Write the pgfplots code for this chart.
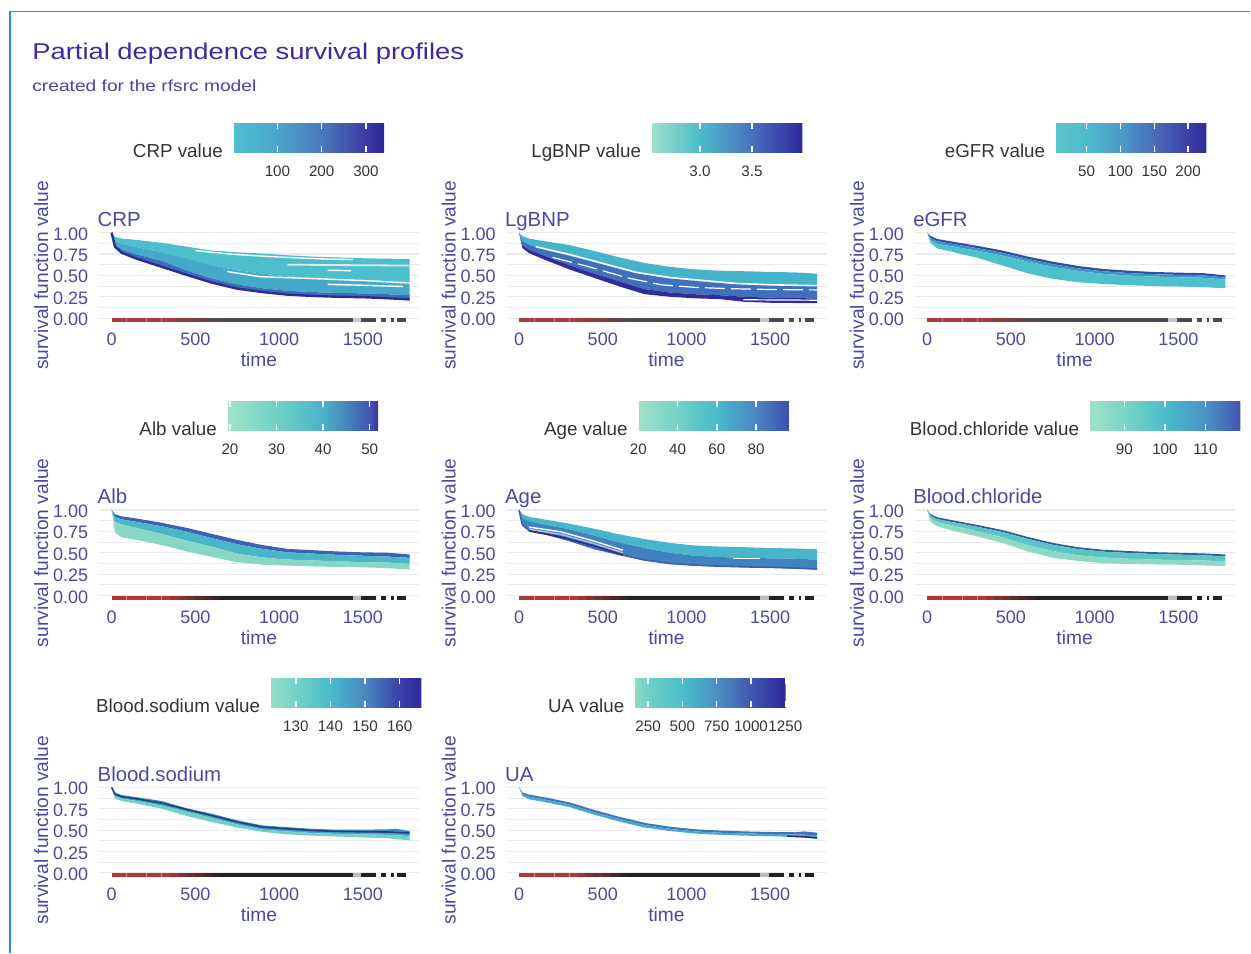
\documentclass[border=0pt]{standalone}
\usepackage{fontspec}
\setmainfont{Liberation Sans}
\newfontfamily\widefont{Liberation Sans}[FakeStretch=1.2]
\usepackage{pgfplots}
\pgfplotsset{compat=1.18}
\usepgfplotslibrary{fillbetween}

\definecolor{titlec}{HTML}{3A2BA0}
\definecolor{subc}{HTML}{4A44A6}
\definecolor{axtext}{HTML}{4B48A2}
\definecolor{legtext}{HTML}{333333}
\definecolor{gridc}{HTML}{E9E9EF}
\definecolor{borderc}{HTML}{2A93D0}
\definecolor{rugred}{HTML}{B3363A}
\definecolor{rugA}{HTML}{4A4A4A}
\definecolor{rugB}{HTML}{222222}

\newcommand\ttlfont{\widefont\fontsize{11.4}{13}\selectfont}
\newcommand\subfont{\widefont\fontsize{8}{9.5}\selectfont}
\newcommand\tickfont{\fontsize{9}{10.5}\selectfont}
\newcommand\labfont{\fontsize{9.6}{11}\selectfont}
\newcommand\pantitlefont{\fontsize{10.2}{12}\selectfont}
\newcommand\legfont{\fontsize{9.4}{11}\selectfont}
\newcommand\cbtick{\fontsize{7.6}{9}\selectfont}

\tikzset{legtitle/.style={anchor=base east, inner sep=0pt, xshift=-5pt, yshift=-2.6pt, font=\legfont, text=legtext}}

\pgfplotsset{
  /pgf/number format/assume math mode=true,
  panel/.style={
    scale only axis, width=160pt, height=47.08pt, anchor=south west,
    xmin=-75, xmax=1835, ymin=-0.05, ymax=1.05, clip=false,
    axis line style={draw=none},
    major tick length=0pt, minor tick length=0pt,
    xtick={0,500,1000,1500}, xticklabels={0,500,1000,1500},
    ytick={0,0.25,0.5,0.75,1}, yticklabels={0.00,0.25,0.50,0.75,1.00},
    minor ytick={0.125,0.375,0.625,0.875},
    ymajorgrids, yminorgrids,
    major grid style={draw=gridc, line width=0.55pt},
    minor grid style={draw=gridc, line width=0.45pt},
    xticklabel style={font=\tickfont, text=axtext, anchor=base, yshift=-11.7pt, inner sep=0pt},
    yticklabel style={font=\tickfont, text=axtext, anchor=east, xshift=-1.9pt, yshift=-0.7pt},
    xlabel={time}, ylabel={survival function value},
    every axis x label/.style={at={(axis description cs:0.5,0)}, anchor=base, yshift=-22.2pt, font=\labfont, text=axtext},
    every axis y label/.style={at={(axis description cs:-0.159,0.5)}, rotate=90, anchor=base, font=\labfont, text=axtext},
    every axis title/.style={at={(axis description cs:0,1)}, anchor=base west, inner sep=0pt, xshift=-0.9pt, yshift=0.85pt, font=\pantitlefont, text=axtext},
    colorbar horizontal,
  },
  cbar/.style={
    scale only axis, width=75.5pt, height=14.7pt,
    at={(parent axis.south west)}, anchor=south west,
    axis line style={draw=none}, axis on top,
    tick align=inside, major tick length=3.2pt,
    xtick pos=both, xticklabel pos=lower,
    tick style={draw=white, line width=0.7pt},
    xticklabel style={font=\cbtick, text=legtext, anchor=base, yshift=-12.2pt, inner sep=0pt},
    ytick=\empty,
  },
}

% rug at y = 0: red at early times, fading to dark, broken near the end
\newcommand\rug[1]{%
\addplot[rugred, line width=2pt] coordinates {(0,-0.025) (352,-0.025)};
\addplot[rugred!60!white, line width=2pt] coordinates {(88,-0.025) (94,-0.025)};
\addplot[rugred!60!white, line width=2pt] coordinates {(207,-0.025) (213,-0.025)};
\addplot[rugred!60!white, line width=2pt] coordinates {(297,-0.025) (303,-0.025)};
\addplot[rugred!85!#1, line width=2pt] coordinates {(350,-0.025) (402,-0.025)};
\addplot[rugred!70!#1, line width=2pt] coordinates {(400,-0.025) (452,-0.025)};
\addplot[rugred!55!#1, line width=2pt] coordinates {(450,-0.025) (502,-0.025)};
\addplot[rugred!40!#1, line width=2pt] coordinates {(500,-0.025) (552,-0.025)};
\addplot[rugred!25!#1, line width=2pt] coordinates {(550,-0.025) (602,-0.025)};
\addplot[rugred!10!#1, line width=2pt] coordinates {(600,-0.025) (652,-0.025)};
\addplot[#1, line width=2pt, unbounded coords=jump] coordinates {(650,-0.025) (1440,-0.025) (1460,nan) (1490,-0.025) (1580,-0.025) (1595,nan) (1610,-0.025) (1640,-0.025) (1655,nan) (1670,-0.025) (1685,-0.025) (1695,nan) (1705,-0.025) (1760,-0.025)};
\addplot[#1!30!white, line width=2pt] coordinates {(1440,-0.025) (1490,-0.025)};
}

\begin{document}
\begin{tikzpicture}
\path (0pt,0pt) rectangle (625.5pt,476.5pt);
\draw[borderc, line width=0.6pt] (5pt,0pt) -- (5pt,470.75pt) -- (625.5pt,470.75pt);
\node[anchor=base west, inner sep=0pt, font=\ttlfont, text=titlec] at (16pt,446.8pt) {Partial dependence survival profiles};
\node[anchor=base west, inner sep=0pt, font=\subfont, text=subc] at (16pt,430.7pt) {created for the rfsrc model};

% ---------------- CRP ----------------
\begin{axis}[panel, at={(49.55pt,315.2pt)}, title={CRP},
  colormap={crpmap}{rgb255(0pt)=(77,192,205) rgb255(100pt)=(74,166,201) rgb255(200pt)=(74,120,188) rgb255(300pt)=(59,60,163) rgb255(341pt)=(46,40,152)},
  point meta min=0, point meta max=341,
  colorbar style={cbar, xshift=67.1pt, yshift=93.65pt,
    xtick={100,200,300}, xticklabels={100,200,300},
    extra description/.code={\node[legtitle] at (axis description cs:0,0) {CRP value};}},
]
\addplot[name path=c1, draw=none] coordinates {(0,1.0) (20,0.95) (60,0.93) (150,0.915) (300,0.88) (450,0.835) (600,0.79) (750,0.77) (900,0.755) (1050,0.735) (1200,0.72) (1350,0.71) (1500,0.70) (1650,0.695) (1780,0.69)};
\addplot[name path=c2, draw=none] coordinates {(0,1.0) (20,0.90) (60,0.87) (150,0.83) (300,0.77) (450,0.70) (600,0.62) (750,0.56) (900,0.52) (1050,0.49) (1200,0.47) (1350,0.455) (1500,0.445) (1650,0.435) (1780,0.425)};
\addplot[name path=c3, draw=none] coordinates {(0,1.0) (20,0.86) (60,0.80) (150,0.745) (300,0.67) (450,0.555) (600,0.465) (750,0.395) (900,0.35) (1050,0.32) (1200,0.305) (1350,0.295) (1500,0.29) (1650,0.28) (1780,0.27)};
\addplot[name path=c4, draw=none] coordinates {(0,1.0) (20,0.83) (60,0.76) (150,0.69) (300,0.595) (450,0.50) (600,0.41) (750,0.34) (900,0.30) (1050,0.27) (1200,0.255) (1350,0.245) (1500,0.24) (1650,0.228) (1780,0.214)};
\addplot[fill={rgb,255:red,77;green,191;blue,204}, draw=none] fill between[of=c1 and c2];
\addplot[fill={rgb,255:red,69;green,170;blue,202}, draw=none] fill between[of=c2 and c3];
\addplot[fill={rgb,255:red,60;green,111;blue,186}, draw=none] fill between[of=c3 and c4];
\addplot[color={rgb,255:red,45;green,44;blue,149}, line width=1.2pt] coordinates {(0,1.0) (20,0.835) (60,0.765) (150,0.695) (300,0.60) (450,0.505) (600,0.415) (750,0.345) (900,0.305) (1050,0.275) (1200,0.26) (1350,0.25) (1500,0.245) (1650,0.233) (1780,0.219)};
\addplot[white, line width=0.7pt] coordinates {(500,0.79) (700,0.75) (900,0.725) (1100,0.705) (1300,0.69) (1440,0.685)};
\addplot[white!80!gray, line width=0.9pt] coordinates {(1050,0.625) (1400,0.62) (1780,0.615)};
\addplot[white, line width=0.7pt] coordinates {(690,0.545) (885,0.485) (1100,0.47) (1300,0.455) (1500,0.44) (1780,0.41)};
\addplot[white, line width=0.7pt] coordinates {(1290,0.395) (1500,0.385) (1740,0.37)};
\addplot[white, line width=0.7pt] coordinates {(1290,0.56) (1430,0.555)};
\rug{rugA}
\end{axis}

% ---------------- LgBNP ----------------
\begin{axis}[panel, at={(253.35pt,315.2pt)}, title={LgBNP},
  colormap={bnpmap}{rgb255(0pt)=(159,225,201) rgb255(46.7pt)=(76,188,203) rgb255(96.7pt)=(74,112,190) rgb255(145.1pt)=(45,39,156)},
  point meta min=2.533, point meta max=3.984,
  colorbar style={cbar, xshift=72.5pt, yshift=93.65pt,
    xtick={3.0,3.5}, xticklabels={3.0,3.5},
    extra description/.code={\node[legtitle] at (axis description cs:0,0) {LgBNP value};}},
]
\addplot[name path=l1, draw=none] coordinates {(0,1.0) (20,0.96) (60,0.93) (150,0.90) (300,0.855) (450,0.785) (600,0.71) (750,0.645) (900,0.60) (1050,0.57) (1200,0.555) (1350,0.548) (1500,0.54) (1650,0.535) (1780,0.52)};
\addplot[name path=l2, draw=none] coordinates {(0,1.0) (20,0.90) (60,0.86) (150,0.80) (300,0.73) (450,0.655) (600,0.58) (750,0.51) (900,0.465) (1050,0.435) (1200,0.41) (1350,0.395) (1500,0.385) (1650,0.38) (1780,0.375)};
\addplot[name path=l3, draw=none] coordinates {(0,1.0) (20,0.85) (60,0.80) (150,0.73) (300,0.62) (450,0.52) (600,0.43) (750,0.34) (900,0.30) (1050,0.28) (1200,0.268) (1350,0.25) (1500,0.24) (1650,0.235) (1780,0.23)};
\addplot[name path=l4, draw=none] coordinates {(0,1.0) (20,0.82) (60,0.76) (150,0.685) (300,0.57) (450,0.47) (600,0.37) (750,0.28) (900,0.25) (1050,0.232) (1200,0.222) (1350,0.19) (1500,0.18) (1650,0.177) (1780,0.175)};
\addplot[fill={rgb,255:red,69;green,179;blue,202}, draw=none] fill between[of=l1 and l2];
\addplot[fill={rgb,255:red,64;green,112;blue,188}, draw=none] fill between[of=l2 and l3];
\addplot[fill={rgb,255:red,47;green,46;blue,156}, draw=none] fill between[of=l3 and l4];
\addplot[white, line width=0.8pt] coordinates {(100,0.835) (300,0.745) (500,0.64) (700,0.535) (900,0.475) (1100,0.44) (1300,0.405) (1500,0.39) (1780,0.38)};
\addplot[white, line width=0.6pt, dash pattern=on 10pt off 3pt] coordinates {(200,0.71) (400,0.61) (650,0.47) (850,0.39) (1050,0.36) (1250,0.345) (1500,0.335) (1780,0.33)};
\addplot[white, line width=0.6pt] coordinates {(1340,0.215) (1780,0.21)};
\rug{rugA}
\end{axis}

% ---------------- eGFR ----------------
\begin{axis}[panel, at={(457.55pt,315.2pt)}, title={eGFR},
  colormap={egfrmap}{rgb255(0pt)=(91,198,204) rgb255(46pt)=(79,186,204) rgb255(96pt)=(74,156,200) rgb255(146pt)=(74,108,186) rgb255(196pt)=(61,63,166) rgb255(223pt)=(48,42,155)},
  point meta min=4, point meta max=227,
  colorbar style={cbar, xshift=70.45pt, yshift=93.65pt,
    xtick={50,100,150,200}, xticklabels={50,100,150,200},
    extra description/.code={\node[legtitle] at (axis description cs:0,0) {eGFR value};}},
]
\addplot[name path=e1, draw=none] coordinates {(0,1.0) (20,0.96) (60,0.925) (150,0.895) (300,0.845) (450,0.79) (600,0.72) (750,0.66) (900,0.61) (1050,0.575) (1200,0.555) (1350,0.54) (1500,0.532) (1650,0.526) (1780,0.50)};
\addplot[name path=e2, draw=none] coordinates {(0,1.0) (20,0.935) (60,0.90) (150,0.868) (300,0.818) (450,0.762) (600,0.692) (750,0.632) (900,0.582) (1050,0.548) (1200,0.528) (1350,0.514) (1500,0.506) (1650,0.50) (1780,0.475)};
\addplot[name path=e3, draw=none] coordinates {(0,1.0) (20,0.91) (60,0.87) (150,0.838) (300,0.788) (450,0.73) (600,0.66) (750,0.60) (900,0.552) (1050,0.518) (1200,0.498) (1350,0.486) (1500,0.478) (1650,0.472) (1780,0.45)};
\addplot[name path=e4, draw=none] coordinates {(0,1.0) (20,0.88) (60,0.815) (150,0.775) (300,0.705) (450,0.615) (600,0.525) (750,0.46) (900,0.42) (1050,0.40) (1200,0.385) (1350,0.375) (1500,0.37) (1650,0.362) (1780,0.35)};
\addplot[fill={rgb,255:red,47;green,79;blue,160}, draw=none] fill between[of=e1 and e2];
\addplot[fill={rgb,255:red,62;green,147;blue,196}, draw=none] fill between[of=e2 and e3];
\addplot[fill={rgb,255:red,77;green,192;blue,204}, draw=none] fill between[of=e3 and e4];
\rug{rugA}
\end{axis}

% ---------------- Alb ----------------
\begin{axis}[panel, at={(49.55pt,176.45pt)}, title={Alb},
  colormap={albmap}{rgb255(0pt)=(163,227,202) rgb255(10.6pt)=(112,210,198) rgb255(20.6pt)=(75,178,202) rgb255(30.6pt)=(67,86,176) rgb255(32.4pt)=(58,53,164)},
  point meta min=19.4, point meta max=51.8,
  colorbar style={cbar, xshift=64.1pt, yshift=93.4pt,
    xtick={20,30,40,50}, xticklabels={20,30,40,50},
    extra description/.code={\node[legtitle] at (axis description cs:0,0) {Alb value};}},
]
\addplot[name path=a1, draw=none] coordinates {(0,1.0) (20,0.95) (60,0.925) (150,0.90) (300,0.85) (450,0.79) (600,0.72) (750,0.65) (900,0.59) (1050,0.545) (1200,0.53) (1350,0.515) (1500,0.505) (1650,0.50) (1780,0.48)};
\addplot[name path=a2, draw=none] coordinates {(0,1.0) (20,0.92) (60,0.89) (150,0.86) (300,0.81) (450,0.745) (600,0.67) (750,0.60) (900,0.545) (1050,0.505) (1200,0.49) (1350,0.475) (1500,0.465) (1650,0.455) (1780,0.44)};
\addplot[name path=a3, draw=none] coordinates {(0,1.0) (20,0.86) (60,0.83) (150,0.79) (300,0.72) (450,0.64) (600,0.57) (750,0.49) (900,0.445) (1050,0.42) (1200,0.41) (1350,0.40) (1500,0.39) (1650,0.385) (1780,0.37)};
\addplot[name path=a4, draw=none] coordinates {(0,1.0) (20,0.74) (60,0.68) (150,0.65) (300,0.59) (450,0.515) (600,0.45) (750,0.39) (900,0.36) (1050,0.35) (1200,0.34) (1350,0.333) (1500,0.33) (1650,0.32) (1780,0.305)};
\addplot[fill={rgb,255:red,59;green,98;blue,179}, draw=none] fill between[of=a1 and a2];
\addplot[fill={rgb,255:red,76;green,182;blue,201}, draw=none] fill between[of=a2 and a3];
\addplot[fill={rgb,255:red,136;green,215;blue,197}, draw=none] fill between[of=a3 and a4];
\rug{rugB}
\end{axis}

% ---------------- Age ----------------
\begin{axis}[panel, at={(253.35pt,176.45pt)}, title={Age},
  colormap={agemap}{rgb255(0pt)=(162,226,202) rgb255(20.2pt)=(116,209,198) rgb255(40.2pt)=(74,186,203) rgb255(60.2pt)=(74,134,194) rgb255(77pt)=(62,78,176)},
  point meta min=19.8, point meta max=96.8,
  colorbar style={cbar, xshift=65.8pt, yshift=93.4pt,
    xtick={20,40,60,80}, xticklabels={20,40,60,80},
    extra description/.code={\node[legtitle] at (axis description cs:0,0) {Age value};}},
]
\addplot[name path=g1, draw=none] coordinates {(0,1.0) (20,0.95) (60,0.92) (150,0.89) (300,0.84) (450,0.78) (600,0.715) (750,0.66) (900,0.615) (1050,0.585) (1200,0.572) (1350,0.565) (1500,0.555) (1650,0.55) (1780,0.54)};
\addplot[name path=g2, draw=none] coordinates {(0,1.0) (20,0.90) (60,0.87) (150,0.83) (300,0.775) (450,0.70) (600,0.62) (750,0.555) (900,0.50) (1050,0.465) (1200,0.45) (1350,0.44) (1500,0.435) (1650,0.43) (1780,0.42)};
\addplot[name path=g3, draw=none] coordinates {(0,1.0) (20,0.82) (60,0.755) (150,0.72) (300,0.64) (450,0.545) (600,0.475) (750,0.41) (900,0.37) (1050,0.35) (1200,0.338) (1350,0.33) (1500,0.325) (1650,0.315) (1780,0.305)};
\addplot[fill={rgb,255:red,72;green,182;blue,202}, draw=none] fill between[of=g1 and g2];
\addplot[fill={rgb,255:red,65;green,130;blue,192}, draw=none] fill between[of=g2 and g3];
\addplot[color={rgb,255:red,62;green,93;blue,180}, line width=0.8pt] coordinates {(0,1.0) (20,0.825) (60,0.76) (150,0.725) (300,0.645) (450,0.55) (600,0.48) (750,0.415) (900,0.375) (1050,0.355) (1200,0.343) (1350,0.335) (1500,0.33) (1650,0.32) (1780,0.31)};
\addplot[white, line width=0.7pt] coordinates {(60,0.80) (250,0.745) (450,0.635) (620,0.53)};
\addplot[color={rgb,255:red,184;green,184;blue,224}, line width=0.7pt] coordinates {(60,0.775) (250,0.715) (450,0.605) (620,0.50)};
\addplot[color={rgb,255:red,40;green,48;blue,127}, line width=0.8pt] coordinates {(60,0.755) (250,0.685) (450,0.58) (620,0.475)};
\addplot[white, line width=0.7pt] coordinates {(1280,0.43) (1440,0.43)};
\rug{rugB}
\end{axis}

% ---------------- Blood.chloride ----------------
\begin{axis}[panel, at={(457.55pt,176.45pt)}, title={Blood.chloride},
  colormap={clmap}{rgb255(0pt)=(159,225,201) rgb255(8.6pt)=(122,213,198) rgb255(18.6pt)=(76,188,203) rgb255(28.6pt)=(74,146,198) rgb255(37.2pt)=(67,85,177)},
  point meta min=81.4, point meta max=118.6,
  colorbar style={cbar, xshift=87.45pt, yshift=93.4pt,
    xtick={90,100,110}, xticklabels={90,100,110},
    extra description/.code={\node[legtitle] at (axis description cs:0,0) {Blood.chloride value};}},
]
\addplot[name path=b1, draw=none] coordinates {(0,1.0) (20,0.95) (60,0.915) (150,0.88) (300,0.825) (450,0.765) (600,0.685) (750,0.615) (900,0.565) (1050,0.535) (1200,0.52) (1350,0.507) (1500,0.50) (1650,0.492) (1780,0.48)};
\addplot[name path=b2, draw=none] coordinates {(0,1.0) (20,0.93) (60,0.893) (150,0.858) (300,0.803) (450,0.743) (600,0.663) (750,0.593) (900,0.543) (1050,0.513) (1200,0.498) (1350,0.485) (1500,0.478) (1650,0.47) (1780,0.458)};
\addplot[name path=b3, draw=none] coordinates {(0,1.0) (20,0.90) (60,0.86) (150,0.82) (300,0.75) (450,0.68) (600,0.59) (750,0.52) (900,0.47) (1050,0.445) (1200,0.43) (1350,0.42) (1500,0.415) (1650,0.41) (1780,0.40)};
\addplot[name path=b4, draw=none] coordinates {(0,1.0) (20,0.86) (60,0.81) (150,0.76) (300,0.69) (450,0.615) (600,0.515) (750,0.44) (900,0.405) (1050,0.377) (1200,0.368) (1350,0.363) (1500,0.36) (1650,0.352) (1780,0.344)};
\addplot[fill={rgb,255:red,46;green,94;blue,150}, draw=none] fill between[of=b1 and b2];
\addplot[fill={rgb,255:red,90;green,196;blue,198}, draw=none] fill between[of=b2 and b3];
\addplot[fill={rgb,255:red,142;green,217;blue,198}, draw=none] fill between[of=b3 and b4];
\rug{rugB}
\end{axis}

% ---------------- Blood.sodium ----------------
\begin{axis}[panel, at={(49.55pt,37.7pt)}, title={Blood.sodium},
  colormap={namap}{rgb255(0pt)=(151,222,199) rgb255(7.3pt)=(116,210,198) rgb255(17.3pt)=(74,186,203) rgb255(27.3pt)=(74,136,194) rgb255(37.3pt)=(58,64,166) rgb255(43.6pt)=(46,40,152)},
  point meta min=122.7, point meta max=166.3,
  colorbar style={cbar, xshift=85.8pt, yshift=93.6pt,
    xtick={130,140,150,160}, xticklabels={130,140,150,160},
    extra description/.code={\node[legtitle] at (axis description cs:0,0) {Blood.sodium value};}},
]
\addplot[name path=s1, draw=none] coordinates {(0,1.0) (20,0.94) (60,0.91) (150,0.885) (300,0.84) (450,0.755) (600,0.69) (750,0.615) (900,0.555) (1050,0.535) (1200,0.515) (1350,0.505) (1500,0.505) (1650,0.51) (1700,0.515) (1780,0.49)};
\addplot[name path=s2, draw=none] coordinates {(0,1.0) (20,0.92) (60,0.89) (150,0.865) (300,0.815) (450,0.74) (600,0.67) (750,0.595) (900,0.535) (1050,0.515) (1200,0.495) (1350,0.485) (1500,0.48) (1650,0.478) (1780,0.465)};
\addplot[name path=s3, draw=none] coordinates {(0,1.0) (20,0.90) (60,0.87) (150,0.84) (300,0.785) (450,0.715) (600,0.64) (750,0.565) (900,0.505) (1050,0.485) (1200,0.465) (1350,0.455) (1500,0.45) (1650,0.445) (1780,0.43)};
\addplot[name path=s4, draw=none] coordinates {(0,1.0) (20,0.87) (60,0.84) (150,0.81) (300,0.75) (450,0.665) (600,0.595) (750,0.53) (900,0.48) (1050,0.45) (1200,0.435) (1350,0.425) (1500,0.415) (1650,0.405) (1780,0.38)};
\addplot[fill={rgb,255:red,58;green,138;blue,193}, draw=none] fill between[of=s1 and s2];
\addplot[fill={rgb,255:red,65;green,169;blue,199}, draw=none] fill between[of=s2 and s3];
\addplot[fill={rgb,255:red,116;green,208;blue,198}, draw=none] fill between[of=s3 and s4];
\addplot[color={rgb,255:red,34;green,63;blue,128}, line width=0.8pt] coordinates {(0,1.0) (20,0.92) (60,0.89) (150,0.865) (300,0.815) (450,0.74) (600,0.67) (750,0.595) (900,0.535) (1050,0.515) (1200,0.495) (1350,0.485) (1500,0.48) (1650,0.478) (1780,0.465)};
\rug{rugB}
\end{axis}

% ---------------- UA ----------------
\begin{axis}[panel, at={(253.35pt,37.7pt)}, title={UA},
  colormap={uamap}{rgb255(0pt)=(143,220,197) rgb255(97.2pt)=(111,208,198) rgb255(347.2pt)=(76,190,203) rgb255(597.2pt)=(74,143,196) rgb255(847.2pt)=(66,86,176) rgb255(1099.2pt)=(46,40,152)},
  point meta min=152.8, point meta max=1252,
  colorbar style={cbar, xshift=64.15pt, yshift=93.6pt,
    xtick={250,500,750,1000,1250}, xticklabels={250,500,750,1000,1250},
    extra description/.code={\node[legtitle] at (axis description cs:0,0) {UA value};}},
]
\addplot[name path=u1, draw=none] coordinates {(0,1.0) (20,0.94) (60,0.915) (150,0.885) (300,0.825) (450,0.735) (600,0.655) (750,0.585) (900,0.54) (1050,0.51) (1200,0.495) (1350,0.485) (1500,0.478) (1650,0.475) (1700,0.485) (1780,0.47)};
\addplot[name path=u2, draw=none] coordinates {(0,1.0) (20,0.92) (60,0.89) (150,0.86) (300,0.80) (450,0.71) (600,0.63) (750,0.56) (900,0.515) (1050,0.485) (1200,0.47) (1350,0.46) (1500,0.455) (1650,0.45) (1780,0.44)};
\addplot[name path=u3, draw=none] coordinates {(0,1.0) (20,0.90) (60,0.86) (150,0.83) (300,0.77) (450,0.68) (600,0.60) (750,0.53) (900,0.49) (1050,0.46) (1200,0.445) (1350,0.435) (1500,0.43) (1650,0.42) (1780,0.405)};
\addplot[fill={rgb,255:red,62;green,116;blue,188}, draw=none] fill between[of=u1 and u2];
\addplot[fill={rgb,255:red,72;green,168;blue,202}, draw=none] fill between[of=u2 and u3];
\addplot[color={rgb,255:red,37;green,48;blue,128}, line width=0.8pt] coordinates {(1600,0.43) (1700,0.422) (1780,0.408)};
\rug{rugB}
\end{axis}
\end{tikzpicture}
\end{document}
